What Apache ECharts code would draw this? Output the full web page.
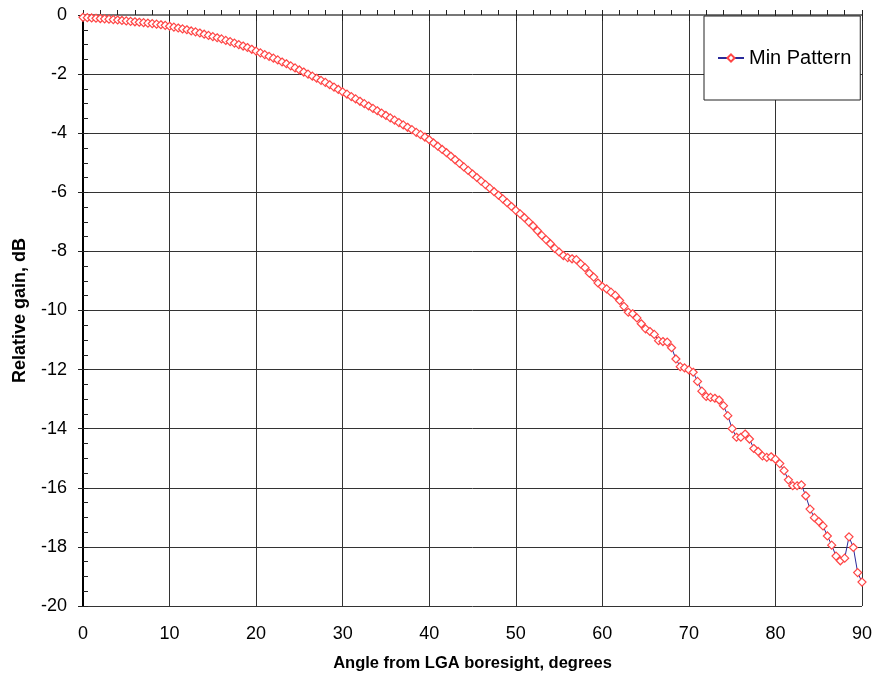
<!DOCTYPE html>
<html lang="en">

<head>
    <meta charset="UTF-8">
    <title>Min Pattern</title>
    <script src="https://cdn.jsdelivr.net/npm/echarts@6/dist/echarts.min.js"></script>
    <style>
        html, body { margin: 0; padding: 0; background: #fff; }
    </style>
</head>

<body>
    <div id="main" style="width: 875px;height:677px;"></div>
    <script type="text/javascript">
        // sample spacing along the angle axis, degrees
        var angleStep = 0.5;
        var xTicks = [0, 10, 20, 30, 40, 50, 60, 70, 80, 90];
        var yTicks = [0, -2, -4, -6, -8, -10, -12, -14, -16, -18, -20];

        // relative gain, dB, one value per 0.5 deg from 0 to 90
        var gain0to10 = [-0.08, -0.09, -0.10, -0.11, -0.12, -0.13, -0.14, -0.155, -0.17, -0.185, -0.2, -0.215, -0.23, -0.245, -0.26, -0.275, -0.29, -0.31, -0.33, -0.35];
        var gain10to20 = [-0.38, -0.41, -0.44, -0.47, -0.5, -0.54, -0.57, -0.61, -0.65, -0.69, -0.73, -0.77, -0.81, -0.86, -0.9, -0.95, -1.0, -1.05, -1.1, -1.16];
        var gain20to30 = [-1.22, -1.28, -1.34, -1.40, -1.46, -1.52, -1.59, -1.65, -1.72, -1.79, -1.86, -1.93, -2.0, -2.07, -2.14, -2.21, -2.28, -2.36, -2.44, -2.52];
        var gain30to40 = [-2.6, -2.68, -2.76, -2.84, -2.92, -3.0, -3.08, -3.16, -3.24, -3.32, -3.4, -3.48, -3.56, -3.64, -3.72, -3.8, -3.88, -3.97, -4.05, -4.13];
        var gain40to50 = [-4.22, -4.33, -4.44, -4.55, -4.66, -4.78, -4.9, -5.02, -5.14, -5.26, -5.38, -5.5, -5.62, -5.74, -5.86, -5.98, -6.1, -6.22, -6.35, -6.48];
        var gain50to60 = [-6.61, -6.73, -6.86, -7.0, -7.14, -7.3, -7.46, -7.6, -7.74, -7.9, -8.02, -8.14, -8.21, -8.25, -8.28, -8.42, -8.55, -8.74, -8.87, -9.07];
        var gain60to70 = [-9.19, -9.27, -9.38, -9.49, -9.66, -9.86, -10.06, -10.11, -10.25, -10.45, -10.62, -10.71, -10.81, -11.02, -11.05, -11.07, -11.26, -11.64, -11.9, -11.94];
        var gain70to80 = [-12.01, -12.09, -12.4, -12.73, -12.91, -12.94, -12.97, -13.03, -13.22, -13.56, -14.0, -14.29, -14.29, -14.18, -14.35, -14.67, -14.77, -14.92, -14.97, -14.95];
        var gain80to90 = [-15.03, -15.18, -15.42, -15.73, -15.93, -15.93, -15.9, -16.27, -16.72, -17.01, -17.14, -17.29, -17.63, -17.94, -18.31, -18.47, -18.38, -17.66, -18.02, -18.87, -19.19];

        var gain = [].concat(gain0to10, gain10to20, gain20to30, gain30to40, gain40to50,
            gain50to60, gain60to70, gain70to80, gain80to90);

        var points = gain.map(function (g, i) {
            return [i * angleStep, g];
        });

        var font = 'Liberation Sans, Arial, sans-serif';
        var gridLine = { show: true, lineStyle: { color: '#333', width: 1 } };

        var myChart = echarts.init(document.getElementById('main'));

        var option = {
            backgroundColor: '#fff',
            animation: false,
            grid: { left: 83, top: 15, right: 12, bottom: 71 },
            legend: {
                left: 704,
                top: 16,
                orient: 'vertical',
                padding: [32, 9, 32, 13],
                borderColor: '#222',
                borderWidth: 1,
                backgroundColor: '#fff',
                itemWidth: 26,
                itemHeight: 9,
                itemGap: 4,
                textStyle: { fontFamily: font, fontSize: 20, color: '#000' },
                data: ['Min Pattern']
            },
            xAxis: [{
                type: 'value',
                min: xTicks[0],
                max: xTicks[xTicks.length - 1],
                interval: 10,
                name: 'Angle from LGA boresight, degrees',
                nameLocation: 'middle',
                nameGap: 49,
                nameTextStyle: { fontFamily: font, fontSize: 16.5, fontWeight: 'bold', color: '#000' },
                axisLine: { show: true, lineStyle: { color: '#777', width: 2 } },
                // inward ticks; the minor ones follow the same direction
                axisTick: { show: true, inside: true, length: 5, lineStyle: { color: '#222' } },
                minorTick: { show: true, splitNumber: 5, length: 5, lineStyle: { color: '#222' } },
                axisLabel: { fontFamily: font, fontSize: 18, color: '#000', margin: 19 },
                splitLine: gridLine
            }, {
                // second copy of the x axis, only for the outward major ticks
                type: 'value',
                position: 'bottom',
                min: xTicks[0],
                max: xTicks[xTicks.length - 1],
                interval: 10,
                axisLine: { show: false },
                axisTick: { show: true, inside: false, length: 6, lineStyle: { color: '#222' } },
                axisLabel: { show: false },
                splitLine: { show: false }
            }],
            yAxis: [{
                type: 'value',
                min: yTicks[yTicks.length - 1],
                max: yTicks[0],
                interval: 2,
                name: 'Relative gain, dB',
                nameLocation: 'middle',
                nameGap: 54,
                nameTextStyle: { fontFamily: font, fontSize: 18, fontWeight: 'bold', color: '#000' },
                axisLine: { show: true, lineStyle: { color: '#000', width: 2 } },
                axisTick: { show: true, inside: true, length: 5, lineStyle: { color: '#222' } },
                minorTick: { show: true, splitNumber: 4, length: 5, lineStyle: { color: '#222' } },
                axisLabel: { fontFamily: font, fontSize: 18, color: '#000', margin: 16 },
                splitLine: gridLine
            }, {
                // outward major ticks on the y axis
                type: 'value',
                position: 'left',
                min: yTicks[yTicks.length - 1],
                max: yTicks[0],
                interval: 2,
                axisLine: { show: false },
                axisTick: { show: true, inside: false, length: 5, lineStyle: { color: '#222' } },
                axisLabel: { show: false },
                splitLine: { show: false }
            }],
            series: [{
                name: 'Min Pattern',
                type: 'line',
                xAxisIndex: 0,
                yAxisIndex: 0,
                data: points,
                symbol: 'diamond',
                symbolSize: 8,
                lineStyle: { color: '#2a2a9a', width: 1 },
                itemStyle: { color: '#fff', borderColor: '#ff4545', borderWidth: 1.2 }
            }]
        };

        myChart.setOption(option);
    </script>
</body>

</html>
